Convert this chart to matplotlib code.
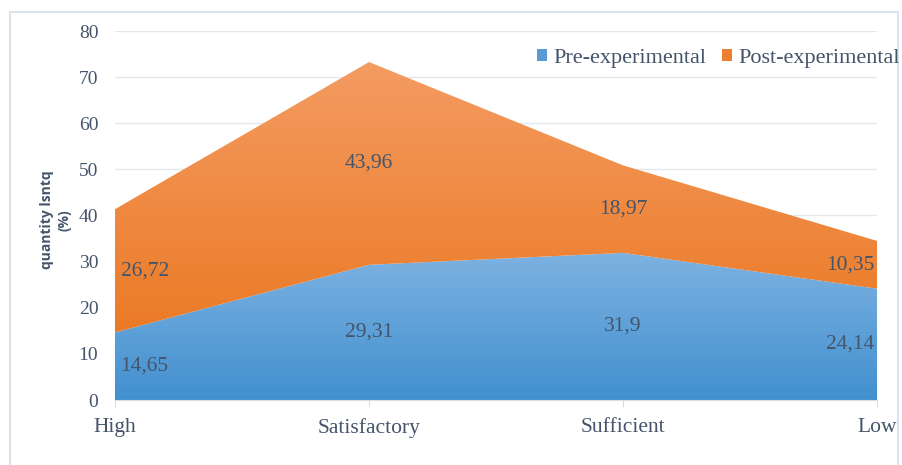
import numpy as np
import matplotlib.pyplot as plt
from matplotlib.colors import LinearSegmentedColormap
from matplotlib.patches import Rectangle, Patch

categories = ["High", "Satisfactory", "Sufficient", "Low"]
pre_values = [14.65, 29.31, 31.9, 24.14]
post_values = [26.72, 43.96, 18.97, 10.35]
series_names = ["Pre-experimental", "Post-experimental"]
y_ticks = [0, 10, 20, 30, 40, 50, 60, 70, 80]

TEXT = "#44546A"
GRID = "#E4E8EC"
BLUE_TOP, BLUE_BOTTOM = "#7DB2E2", "#4290CF"
ORANGE_TOP, ORANGE_BOTTOM = "#F49C62", "#EB7A26"
SERIF = "Liberation Serif"


def gradient_fill(ax, x, lower, upper, top_color, bottom_color):
    poly = ax.fill_between(x, lower, upper, color="none", linewidth=0)
    y0, y1 = float(np.min(lower)), float(np.max(upper))
    cmap = LinearSegmentedColormap.from_list("g", [bottom_color, top_color])
    grad = np.linspace(0, 1, 256).reshape(-1, 1)
    im = ax.imshow(grad, cmap=cmap, origin="lower", aspect="auto",
                   extent=[x[0], x[-1], y0, y1], zorder=2)
    im.set_clip_path(poly.get_paths()[0], transform=ax.transData)
    return poly


fig = plt.figure(figsize=(9.02, 4.65), dpi=100)
fig.patch.set_facecolor("white")
fig.patches.append(Rectangle((10 / 902, -0.01), 888 / 902, 1 - 12 / 465 + 0.01,
                             transform=fig.transFigure, fill=False,
                             edgecolor="#DDE3EA", linewidth=1.5))

ax = fig.add_axes([115 / 902, 65 / 465, 762 / 902, 369 / 465])
x = np.arange(len(categories))
pre = np.array(pre_values)
total = pre + np.array(post_values)

gradient_fill(ax, x, np.zeros_like(pre), pre, BLUE_TOP, BLUE_BOTTOM)
gradient_fill(ax, x, pre, total, ORANGE_TOP, ORANGE_BOTTOM)

ax.set_xlim(0, len(categories) - 1)
ax.set_ylim(0, 80)
ax.set_yticks(y_ticks)
ax.set_xticks(x)
ax.set_xticklabels(categories)
ax.yaxis.grid(True, color=GRID, linewidth=1)
ax.set_axisbelow(True)
for s in ("top", "right", "left"):
    ax.spines[s].set_visible(False)
ax.spines["bottom"].set_color("#D9DDE2")
ax.tick_params(axis="y", length=0, pad=12, labelsize=14, labelcolor=TEXT)
ax.tick_params(axis="x", length=5, color="#D9DDE2", pad=8, labelsize=15.5,
               labelcolor=TEXT)
for tl in ax.get_xticklabels() + ax.get_yticklabels():
    tl.set_fontfamily(SERIF)

# value labels at the middle of each band
for i in range(len(categories)):
    if i == 0:
        ha, dx = "left", 4
    elif i == len(categories) - 1:
        ha, dx = "right", -2
    else:
        ha, dx = "center", 0
    for val, mid in ((pre_values[i], pre_values[i] / 2),
                     (post_values[i], pre_values[i] + post_values[i] / 2)):
        ax.annotate(f"{val:g}".replace(".", ","), (x[i], mid),
                    xytext=(dx, 0), textcoords="offset points",
                    ha=ha, va="center", fontsize=15.5, color=TEXT,
                    family=SERIF, zorder=5)

fig.text(56 / 902, 1 - 220 / 465, "quantity lsntq\n(%)", rotation=90,
         ha="center", va="center", multialignment="center",
         fontsize=10, fontweight="bold", color=TEXT, family="Open Sans",
         linespacing=1.3)

handles = [Patch(facecolor="#5B9BD5"), Patch(facecolor="#ED7D31")]
fig.legend(handles, series_names, loc="center right",
           bbox_to_anchor=(900 / 902, 1 - 58 / 465), ncol=2, frameon=False,
           borderpad=0, borderaxespad=0,
           handlelength=0.45, handleheight=0.45, handletextpad=0.3,
           columnspacing=0.7, prop={"family": SERIF, "size": 16},
           labelcolor=TEXT)

fig.savefig("out.png", dpi=100)
